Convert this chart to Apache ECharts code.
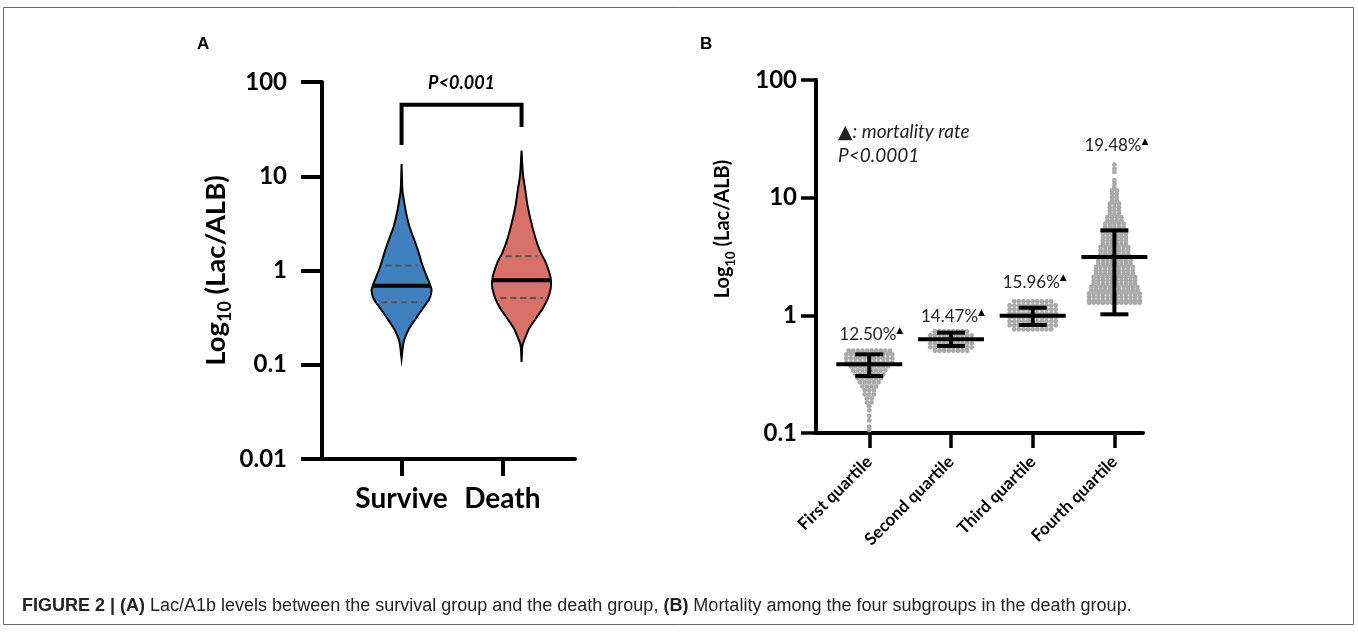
<!DOCTYPE html>
<html><head><meta charset="utf-8">
<script src="https://cdn.jsdelivr.net/npm/echarts@6/dist/echarts.min.js"></script>
<style>html,body{margin:0;padding:0;background:#fff}#c{width:1358px;height:633px}</style>
</head><body><div id="c"></div>
<script>
// ---------------- Panel A data ----------------
const groupsA = ['Survive', 'Death'];
const tickPosA = [1, 2];
const violinPosA = [1, 2.19];
const yTicksA = [0.01, 0.1, 1, 10, 100];
// violin outline: [value, relative density]
const survProfile = [[13.5,0],[7.08,0.03],[5.25,0.09],[3.83,0.17],[2.95,0.26],[2.35,0.37],[1.70,0.53],[1.13,0.70],[0.817,0.87],[0.693,0.96],[0.614,1.0],[0.501,0.93],[0.393,0.70],[0.308,0.47],[0.241,0.25],[0.189,0.10],[0.160,0.05],[0.116,0]];
const deathProfile = [[18.75,0],[10.2,0.05],[7.35,0.12],[4.89,0.20],[3.26,0.32],[2.17,0.47],[1.57,0.63],[1.23,0.80],[0.962,0.92],[0.783,0.98],[0.640,0.97],[0.501,0.87],[0.393,0.70],[0.308,0.47],[0.241,0.25],[0.189,0.11],[0.160,0.03],[0.107,0]];
// [Q1, median, Q3]
const survStats = [0.46, 0.69, 1.13];
const deathStats = [0.51, 0.79, 1.42];
// significance bracket: [top, left foot, right foot, label level]
const bracketA = [57.2, 21.5, 33.4, 97];
const pLabelA = 'P<0.001';

// ---------------- Panel B data ----------------
const groupsB = ['First quartile', 'Second quartile', 'Third quartile', 'Fourth quartile'];
const tickPosB = [1, 2, 3, 4];
const yTicksB = [0.1, 1, 10, 100];
const mortality = ['12.50%', '14.47%', '15.96%', '19.48%'];
const mortalityLabelAt = [0.67, 0.94, 1.86, 26.7];
const meanB = [0.384, 0.626, 0.99, 3.13];
const sdLowB = [0.305, 0.549, 0.828, 1.02];
const sdHighB = [0.466, 0.713, 1.16, 5.27];
// dot rows: [value, number of dots in the row]
const q1Rows = [[0.50,10],[0.466,11],[0.431,11],[0.399,11],[0.369,9],[0.341,8],[0.315,7],[0.292,6],[0.270,5],[0.249,4],[0.231,3],[0.213,3],[0.197,2],[0.182,2],[0.169,1],[0.156,1],[0.140,1],[0.128,1],[0.113,1],[0.106,1]];
const q2Rows = [[0.731,8],[0.676,10],[0.626,10],[0.578,10],[0.535,10],[0.50,8]];
const q3Rows = [[1.315,9],[1.216,11],[1.124,11],[1.040,11],[0.962,11],[0.889,11],[0.822,11],[0.760,9]];
const q4Rows = [[19.1,1],[17.6,1],[16.5,1],[14.0,1],[13.1,1],[12.3,1],[11.5,2],[10.8,2],[10.1,2],[9.47,2],[8.9,3],[8.3,3],[7.79,3],[7.3,3],[6.83,4],[6.40,4],[6.0,5],[5.62,5],[5.28,6],[4.94,6],[4.62,6],[4.33,6],[4.06,6],[3.80,7],[3.56,7],[3.34,7],[3.13,8],[2.93,8],[2.75,8],[2.57,9],[2.41,9],[2.26,9],[2.11,10],[1.98,10],[1.86,10],[1.74,11],[1.63,11],[1.53,12],[1.43,12],[1.34,12],[1.28,12]];

// ---------------- build ----------------
const FONT = 'Lato, "DejaVu Sans", sans-serif';
const profiles = [survProfile, deathProfile];
const stats = [survStats, deathStats];
const violinColors = ['#4180be', '#d9716b'];
const VIOLIN_HALF = 30;
const fmtLog = v => v < 1 ? v.toFixed(Math.round(-Math.log10(v))) : String(Math.round(v));

function renderViolin(params, api) {
  const i = params.dataIndex;
  const pos = api.value(0);
  const cx = api.coord([pos, 1])[0];
  const pts = profiles[i].map(p => [api.coord([pos, p[0]])[1], p[1] * VIOLIN_HALF]);
  const poly = pts.map(p => [cx - p[1], p[0]]).concat(pts.slice().reverse().map(p => [cx + p[1], p[0]]));
  const widthAt = val => {
    const y = api.coord([pos, val])[1];
    for (let k = 0; k < pts.length - 1; k++) {
      const a = pts[k], b = pts[k + 1];
      if (y >= a[0] && y <= b[0]) {
        const t = (y - a[0]) / (b[0] - a[0]);
        return [y, a[1] + t * (b[1] - a[1])];
      }
    }
    return [y, 0];
  };
  const s = stats[i];
  const children = [{
    type: 'polygon', shape: { points: poly, smooth: 0.3 },
    style: { fill: violinColors[i], stroke: '#000', lineWidth: 2 }
  }];
  [s[0], s[2]].forEach(v => {
    const [y, w] = widthAt(v);
    children.push({ type: 'line', shape: { x1: cx - w + 5, y1: y, x2: cx + w - 5, y2: y },
      style: { stroke: '#555', lineWidth: 2, lineDash: [6, 4] } });
  });
  const [my, mw] = widthAt(s[1]);
  children.push({ type: 'line', shape: { x1: cx - mw, y1: my, x2: cx + mw, y2: my },
    style: { stroke: '#000', lineWidth: 4 } });
  return { type: 'group', children };
}

function renderBracket(params, api) {
  const x1 = api.coord([api.value(0), 1])[0];
  const x2 = api.coord([api.value(1), 1])[0];
  const yTop = api.coord([1, bracketA[0]])[1];
  const yL = api.coord([1, bracketA[1]])[1];
  const yR = api.coord([1, bracketA[2]])[1];
  const yT = api.coord([1, bracketA[3]])[1];
  return { type: 'group', children: [
    { type: 'polyline', shape: { points: [[x1, yL], [x1, yTop], [x2, yTop], [x2, yR]] },
      style: { stroke: '#000', lineWidth: 4, fill: null, lineJoin: 'miter' } },
    { type: 'text', style: { text: pLabelA, x: (x1 + x2) / 2, y: yT, align: 'center', verticalAlign: 'middle',
      font: 'italic bold 18px Lato, sans-serif', fill: '#000' } }
  ] };
}

const DOT_R = 2.4, DOT_GAP = 4.6;
function renderDots(params, api) {
  const c = api.coord([api.value(0), api.value(1)]);
  const n = api.value(2);
  const children = [];
  for (let k = 0; k < n; k++) {
    children.push({ type: 'circle', shape: { cx: c[0] + (k - (n - 1) / 2) * DOT_GAP, cy: c[1], r: DOT_R },
      style: { fill: '#a9a9a9' } });
  }
  return { type: 'group', children };
}

function renderErr(params, api) {
  const pos = api.value(0);
  const m = api.coord([pos, api.value(1)]);
  const lo = api.coord([pos, api.value(2)]);
  const hi = api.coord([pos, api.value(3)]);
  const st = { stroke: '#000', lineWidth: 4 };
  return { type: 'group', children: [
    { type: 'line', shape: { x1: m[0], y1: lo[1], x2: m[0], y2: hi[1] }, style: st },
    { type: 'line', shape: { x1: m[0] - 14, y1: lo[1], x2: m[0] + 14, y2: lo[1] }, style: st },
    { type: 'line', shape: { x1: m[0] - 14, y1: hi[1], x2: m[0] + 14, y2: hi[1] }, style: st },
    { type: 'line', shape: { x1: m[0] - 33, y1: m[1], x2: m[0] + 33, y2: m[1] }, style: st }
  ] };
}

function renderPct(params, api) {
  const c = api.coord([api.value(0), api.value(1)]);
  return { type: 'text', style: {
    text: '{p|' + mortality[params.dataIndex] + '}{t|▲}', x: c[0] + 2, y: c[1], align: 'center', verticalAlign: 'middle',
    rich: { p: { fontSize: 17, fontFamily: FONT, fill: '#222', lineHeight: 20, verticalAlign: 'top' },
            t: { fontSize: 9, fontFamily: '"DejaVu Sans"', fill: '#000', lineHeight: 10, verticalAlign: 'top' } } } };
}

const dotData = [];
[q1Rows, q2Rows, q3Rows, q4Rows].forEach((rows, g) => rows.forEach(r => dotData.push([tickPosB[g], r[0], r[1]])));

const axisCommon = {
  splitLine: { show: false },
  axisLine: { show: true, onZero: false, lineStyle: { color: '#000', width: 4 } }
};
const titleRich = (big, small, lh, slh) => ({
  a: { fontFamily: FONT, fontWeight: 'bold', fontSize: big, color: '#000', lineHeight: lh, verticalAlign: 'top' },
  s: { fontFamily: FONT, fontWeight: 'bold', fontSize: small, color: '#000', lineHeight: slh, verticalAlign: 'bottom' }
});

const option = {
  animation: false,
  backgroundColor: '#fff',
  grid: [
    { left: 322, top: 82, width: 253, height: 377 },
    { left: 816, top: 80, width: 327, height: 353 }
  ],
  xAxis: [
    Object.assign({}, axisCommon, {
      gridIndex: 0, type: 'value', min: 0.211, max: 2.72,
      axisTick: { show: true, customValues: tickPosA, length: 17, lineStyle: { color: '#000', width: 4 } },
      axisLabel: { customValues: tickPosA, formatter: v => groupsA[tickPosA.indexOf(v)],
        fontFamily: FONT, fontWeight: 'bold', fontSize: 28, color: '#000', margin: 26 }
    }),
    Object.assign({}, axisCommon, {
      gridIndex: 1, type: 'value', min: 0.348, max: 4.35,
      axisTick: { show: true, customValues: tickPosB, length: 15, lineStyle: { color: '#000', width: 3.5 } },
      axisLabel: { customValues: tickPosB, formatter: v => groupsB[tickPosB.indexOf(v)], rotate: 45,
        fontFamily: FONT, fontWeight: 'bold', fontSize: 17, color: '#000', margin: 26 }
    })
  ],
  yAxis: [
    Object.assign({}, axisCommon, {
      gridIndex: 0, type: 'log', logBase: 10, min: 0.01, max: 100,
      axisTick: { show: true, customValues: yTicksA, length: 21, lineStyle: { color: '#000', width: 4 } },
      axisLabel: { customValues: yTicksA, formatter: fmtLog, fontFamily: FONT, fontWeight: 'bold', fontSize: 24, color: '#000', margin: 35 },
      name: '{a|Log}{s|10}{a| (Lac/ALB)}', nameLocation: 'middle', nameGap: 88,
      nameTextStyle: { rich: titleRich(27.5, 18, 32, 15) }
    }),
    Object.assign({}, axisCommon, {
      gridIndex: 1, type: 'log', logBase: 10, min: 0.1, max: 100,
      axisTick: { show: true, customValues: yTicksB, length: 15, lineStyle: { color: '#000', width: 3.5 } },
      axisLabel: { customValues: yTicksB, formatter: fmtLog, fontFamily: FONT, fontWeight: 'bold', fontSize: 24, color: '#000', margin: 19 },
      name: '{a|Log}{s|10}{a| (Lac/ALB)}', nameLocation: 'middle', nameGap: 79,
      nameTextStyle: { rich: titleRich(20, 13, 24, 11), padding: [0, 0, 0, 55] }
    })
  ],
  series: [
    { type: 'custom', xAxisIndex: 0, yAxisIndex: 0, renderItem: renderViolin,
      data: violinPosA.map((p, i) => [p, stats[i][1]]), z: 2 },
    { type: 'custom', xAxisIndex: 0, yAxisIndex: 0, renderItem: renderBracket,
      data: [[violinPosA[0], violinPosA[1], bracketA[0]]], z: 3 },
    { type: 'custom', xAxisIndex: 1, yAxisIndex: 1, renderItem: renderDots, data: dotData, z: 2 },
    { type: 'custom', xAxisIndex: 1, yAxisIndex: 1, renderItem: renderErr,
      data: tickPosB.map((p, i) => [p, meanB[i], sdLowB[i], sdHighB[i]]), z: 3 },
    { type: 'custom', xAxisIndex: 1, yAxisIndex: 1, renderItem: renderPct,
      data: tickPosB.map((p, i) => [p, mortalityLabelAt[i]]), z: 4 }
  ],
  graphic: [
    { type: 'rect', shape: { x: 3.5, y: 7.5, width: 1350, height: 617 }, style: { fill: null, stroke: '#666', lineWidth: 1 }, z: 0 },
    { type: 'text', x: 197, y: 36, style: { text: 'A', font: 'bold 17px "Liberation Sans", Arial, sans-serif', fill: '#000' } },
    { type: 'text', x: 700, y: 36, style: { text: 'B', font: 'bold 17px "Liberation Sans", Arial, sans-serif', fill: '#000' } },
    { type: 'text', x: 838, y: 132, style: { text: '▲: mortality rate', verticalAlign: 'middle', font: 'italic 19px Lato, "DejaVu Sans", sans-serif', fill: '#222' } },
    { type: 'text', x: 838, y: 156, style: { text: 'P<0.0001', verticalAlign: 'middle', font: 'italic 19px Lato, sans-serif', fill: '#222' } },
    { type: 'text', x: 22, y: 606, style: {
      text: '{b|FIGURE 2 | (A)} Lac/A1b levels between the survival group and the death group, {b|(B)} Mortality among the four subgroups in the death group.',
      verticalAlign: 'middle',
      font: '18px "Liberation Sans Narrow", "Arial Narrow", "Liberation Sans", sans-serif', fill: '#222',
      rich: { b: { fontWeight: 'bold', fontSize: 18, fontFamily: '"Liberation Sans Narrow", "Arial Narrow", "Liberation Sans", sans-serif', fill: '#222' } } } }
  ]
};
const chart = echarts.init(document.getElementById('c'));
chart.setOption(option);
</script>
</body></html>
